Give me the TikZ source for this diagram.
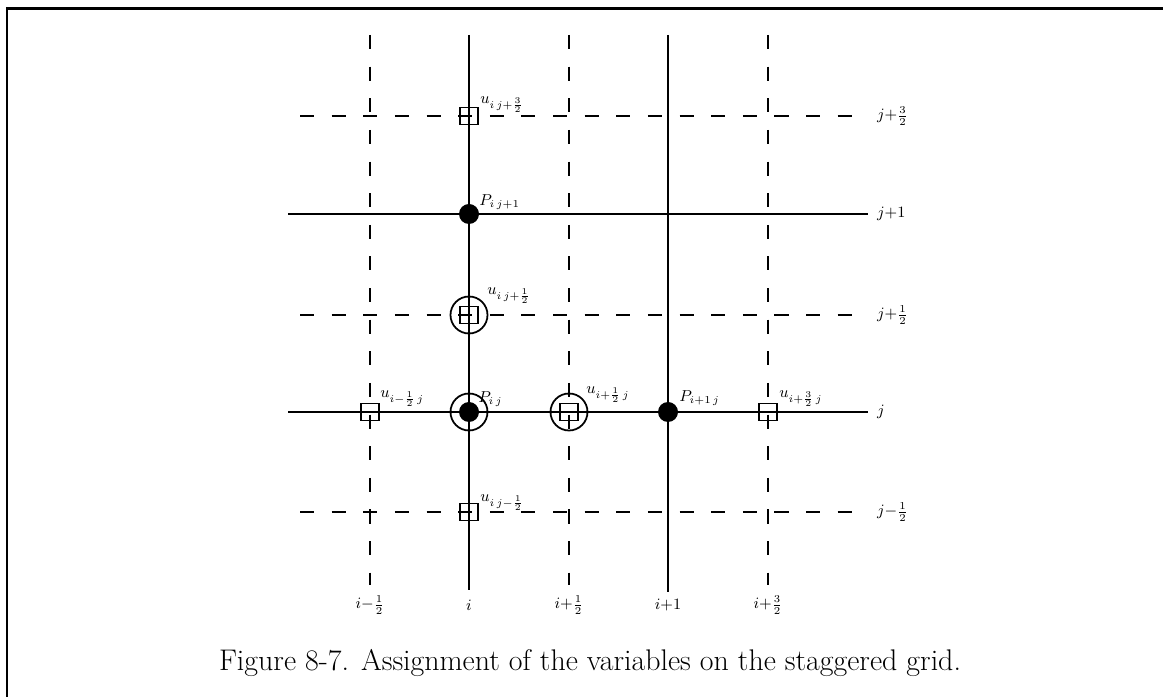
\documentclass[tikz,border=0pt]{standalone}
\usepackage{amsmath,amssymb}
\usepackage{tikz}
\usetikzlibrary{calc,positioning}

\tikzset{
  gridline/.style={line width=1.2pt},
  halfline/.style={line width=1.2pt,dash pattern=on 8pt off 10pt},
  pdot/.style={circle,fill,inner sep=0pt,minimum size=0.40cm},
  ubox/.style={rectangle,draw,line width=1pt,inner sep=0pt,minimum width=0.36cm,minimum height=0.34cm},
  uring/.style={circle,draw,line width=1pt,inner sep=0pt,minimum size=0.74cm},
  lbl/.style={anchor=south west,inner sep=0pt,font=\small},
  axlbl/.style={inner sep=1pt,font=\small}
}

\begin{document}
\begin{tikzpicture}
\useasboundingbox (0,0) rectangle (23.26,13.94);
% frame
\draw[line width=1.7pt] (0.14,0)--(0.14,13.76)--(23.26,13.76);

% grid lines, half-index lines dashed
\draw[halfline] (7.40,13.24)--(7.40,2.24);
\draw[gridline] (9.38,13.24)--(9.38,2.14);
\draw[halfline] (11.38,13.24)--(11.38,2.24);
\draw[gridline] (13.36,13.24)--(13.36,2.10);
\draw[halfline] (15.36,13.24)--(15.36,2.24);
\draw[halfline] (6.00,11.62)--(17.30,11.62);
\draw[gridline] (5.76,9.66)--(17.36,9.66);
\draw[halfline] (6.00,7.64)--(17.30,7.64);
\draw[gridline] (5.76,5.70)--(17.36,5.70);
\draw[halfline] (6.00,3.70)--(17.30,3.70);

% index labels
\node[axlbl,anchor=west] (j32) at (17.50,11.62) {$j{+}\frac{3}{2}$};
\node[axlbl,anchor=west] (j1)  at (17.50,9.66) {$j{+}1$};
\node[axlbl,anchor=west] (j12) at (17.50,7.64) {$j{+}\frac{1}{2}$};
\node[axlbl,anchor=west] (j0)  at (17.50,5.70) {$j$};
\node[axlbl,anchor=west] (jm)  at (17.50,3.70) {$j{-}\frac{1}{2}$};
\node[axlbl] (im) at (7.40,1.84) {$i{-}\frac{1}{2}$};
\node[axlbl] (i0) at (9.38,1.84) {$i$};
\node[axlbl] (i12) at (11.38,1.84) {$i{+}\frac{1}{2}$};
\node[axlbl] (i1) at (13.36,1.84) {$i{+}1$};
\node[axlbl] (i32) at (15.36,1.84) {$i{+}\frac{3}{2}$};

% pressure points
\node[pdot] (p0) at (9.38,5.70) {};
\node[pdot] (p1) at (9.38,9.66) {};
\node[pdot] (p2) at (13.36,5.70) {};
\node[uring] (c0) at (9.38,5.70) {};

% velocity points
\node[ubox] (u1) at (9.38,11.62) {};
\node[ubox] (u2) at (9.38,7.64) {};
\node[uring] (c2) at (9.38,7.64) {};
\node[ubox] (u3) at (7.40,5.70) {};
\node[ubox] (u4) at (11.38,5.70) {};
\node[uring] (c4) at (11.38,5.70) {};
\node[ubox] (u5) at (15.36,5.70) {};
\node[ubox] (u6) at (9.38,3.70) {};

% variable labels
\node[lbl] (lu1) at ($(u1)+(0.22,0.06)$) {$u_{i\,j+\frac{3}{2}}$};
\node[lbl] (lp1) at ($(p1)+(0.20,0.08)$) {$P_{i\,j+1}$};
\node[lbl] (lu2) at ($(c2)+(0.36,0.22)$) {$u_{i\,j+\frac{1}{2}}$};
\node[lbl] (lp0) at ($(c0)+(0.18,0.10)$) {$P_{i\,j}$};
\node[lbl] (lu3) at ($(u3)+(0.20,0.10)$) {$u_{i-\frac{1}{2}\,j}$};
\node[lbl] (lu4) at ($(c4)+(0.34,0.18)$) {$u_{i+\frac{1}{2}\,j}$};
\node[lbl] (lp2) at ($(p2)+(0.22,0.12)$) {$P_{i+1\,j}$};
\node[lbl] (lu5) at ($(u5)+(0.22,0.10)$) {$u_{i+\frac{3}{2}\,j}$};
\node[lbl] (lu6) at ($(u6)+(0.22,0.02)$) {$u_{i\,j-\frac{1}{2}}$};

% caption
\node[font=\fontsize{17}{20}\selectfont] (cap) at (11.80,0.68) {Figure 8-7. Assignment of the variables on the staggered grid.};
\end{tikzpicture}
\end{document}
